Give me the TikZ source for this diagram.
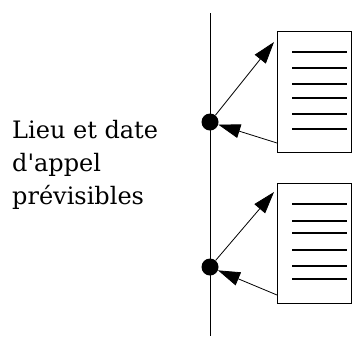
\documentclass[tikz,border=0pt]{standalone}
\usepackage{fontspec}
\setmainfont{DejaVu Serif}
\usetikzlibrary{arrows.meta}

\tikzset{
  fleche/.style={line width=0.8pt, -{Triangle[length=22pt,width=14pt]}},
  fiche/.style={draw, line width=1pt},
  ligne/.style={line width=1.3pt},
}

\begin{document}
\begin{tikzpicture}[x=1pt,y=-1pt]
        \useasboundingbox (0,0) rectangle (352,338);

        % Draw the time line
        \coordinate (haut) at (210,13);
        \coordinate (bas) at (210,336);
        \draw[line width=1pt] (haut) -- (bas);

        % Draw the two call points
        \node[circle, fill, inner sep=0pt, minimum size=17pt] (appelA) at (210,122) {};
        \node[circle, fill, inner sep=0pt, minimum size=17pt] (appelB) at (210,267) {};

        % Draw the label
        \node[anchor=base west, align=left, inner sep=0pt, font=\fontsize{24}{33}\selectfont] (lieu) at (12,204)
            {Lieu et date\\d\textquotesingle appel\\prévisibles};

        % Draw the two forms
        \draw[fiche] (277,31) rectangle (351,152);
        \draw[fiche] (277,183) rectangle (351,303);
        \foreach \y in {52,68,84,98,114,129} {
            \draw[ligne] (292,\y) -- (347,\y);
        }
        \foreach \y in {204,221,233,250,266,279} {
            \draw[ligne] (292,\y) -- (347,\y);
        }

        % Draw the arrows
        \coordinate (ficheA) at (274,42);
        \coordinate (retourA) at (277,143);
        \coordinate (ficheB) at (274,192);
        \coordinate (retourB) at (277,295);
        \draw[fleche] (appelA) -- (ficheA);
        \draw[fleche] (retourA) -- (appelA);
        \draw[fleche] (appelB) -- (ficheB);
        \draw[fleche] (retourB) -- (appelB);

    \end{tikzpicture}
\end{document}
